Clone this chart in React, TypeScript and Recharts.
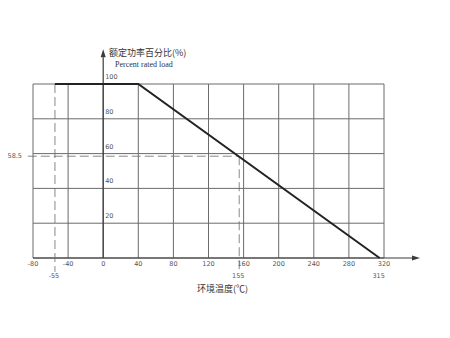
import { CartesianGrid, Line, LineChart, ReferenceDot, ReferenceLine, XAxis, YAxis } from "recharts"

// derating curve: ambient temperature (°C) vs percent rated load
const curveTemp = [-55, 40, 315]
const curveLoad = [100, 100, 0]

const xTicks = [-80, -40, 0, 40, 80, 120, 160, 200, 240, 280, 320]
const yTicks = [0, 20, 40, 60, 80, 100]
const yTickLabels = [20, 40, 60, 80, 100]
const markTemps = [-55, 155, 315]
const kneeLoad = 58.5

const data = curveTemp.map((t, i) => ({ t, p: curveLoad[i] }))

const ink = "#3a3a3a"
const gridInk = "#6b6b6b"
const labelInk = "#555"

const Arrow = (props: any) => {
  const { x1, y1, x2, y2 } = props
  const dx = x2 - x1
  const dy = y2 - y1
  const len = Math.sqrt(dx * dx + dy * dy) || 1
  const ux = dx / len
  const uy = dy / len
  const hl = 8
  const hw = 2.5
  const bx = x2 - ux * hl
  const by = y2 - uy * hl
  return (
    <g>
      <line x1={x1} y1={y1} x2={bx} y2={by} stroke={ink} strokeWidth={1.2} />
      <polygon
        points={`${x2},${y2} ${bx - uy * hw},${by + ux * hw} ${bx + uy * hw},${by - ux * hw}`}
        fill={ink}
      />
    </g>
  )
}

const rightAbove = (value: number) => (props: any) => {
  const { x, y } = props.viewBox
  return (
    <text x={x + 3} y={y - 4} fontSize={6.5} fill={labelInk} fontFamily="DejaVu Sans">
      {value}
    </text>
  )
}

const below = (value: number) => (props: any) => {
  const { x, y } = props.viewBox
  return (
    <text x={x} y={y + 21} fontSize={6.5} fill={labelInk} fontFamily="DejaVu Sans" textAnchor="middle">
      {value}
    </text>
  )
}

const leftOf = (value: number) => (props: any) => {
  const { x, y } = props.viewBox
  return (
    <text x={x - 10} y={y + 3} fontSize={6.5} fill={labelInk} fontFamily="DejaVu Sans" textAnchor="end">
      {value}
    </text>
  )
}

export default function App() {
  return (
    <div style={{ position: "absolute", left: 0, top: 0, width: 450, height: 338, background: "#fff" }}>
      <LineChart width={450} height={338} data={data} margin={{ top: 84, right: 66, bottom: 68, left: 33 }}>
        <CartesianGrid stroke={gridInk} strokeWidth={1} />
        <XAxis
          type="number"
          dataKey="t"
          domain={[-80, 320]}
          ticks={xTicks}
          interval={0}
          axisLine={false}
          tickLine={false}
          tickSize={0}
          tickMargin={3}
          height={12}
          tick={{ fontSize: 6.5, fill: labelInk, fontFamily: "DejaVu Sans" }}
        />
        <YAxis type="number" domain={[0, 100]} ticks={yTicks} hide />
        {/* axes with arrows */}
        <ReferenceLine
          segment={[{ x: 0, y: 0 }, { x: 0, y: 120 }]}
          ifOverflow="visible"
          shape={Arrow}
        />
        <ReferenceLine
          segment={[{ x: -80, y: 0 }, { x: 361, y: 0 }]}
          ifOverflow="visible"
          shape={Arrow}
        />
        {/* dashed guides */}
        <ReferenceLine
          segment={[{ x: -86, y: kneeLoad }, { x: 155, y: kneeLoad }]}
          ifOverflow="visible"
          stroke={gridInk}
          strokeOpacity={0.8}
          strokeDasharray="9 4"
        />
        <ReferenceLine
          segment={[{ x: -55, y: 100 }, { x: -55, y: -8 }]}
          ifOverflow="visible"
          stroke={gridInk}
          strokeOpacity={0.8}
          strokeDasharray="9 4"
        />
        <ReferenceLine
          segment={[{ x: 155, y: kneeLoad }, { x: 155, y: -8 }]}
          ifOverflow="visible"
          stroke={gridInk}
          strokeOpacity={0.8}
          strokeDasharray="9 4"
        />
        {yTickLabels.map((v) => (
          <ReferenceDot key={"y" + v} x={0} y={v} r={1} fill="none" stroke="none" label={rightAbove(v)} />
        ))}
        {markTemps.map((v) => (
          <ReferenceDot key={"m" + v} x={v} y={0} r={1} fill="none" stroke="none" label={below(v)} />
        ))}
        <ReferenceDot x={-80} y={kneeLoad} r={1} fill="none" stroke="none" label={leftOf(kneeLoad)} />
        <Line
          dataKey="p"
          type="linear"
          stroke="#222"
          strokeWidth={2}
          dot={false}
          isAnimationActive={false}
        />
      </LineChart>
      <div
        style={{
          position: "absolute",
          left: 109,
          top: 47,
          fontSize: 9,
          color: "#333",
          fontFamily: "'Noto Sans CJK SC'",
          whiteSpace: "nowrap",
          lineHeight: "12px",
        }}
      >
        额定功率百分比(%)
      </div>
      <div
        style={{
          position: "absolute",
          left: 115,
          top: 60,
          fontSize: 8,
          color: "#333",
          fontFamily: "'Liberation Serif'",
          whiteSpace: "nowrap",
          lineHeight: "10px",
        }}
      >
        Percent rated load
      </div>
      <div
        style={{
          position: "absolute",
          left: 197,
          top: 282,
          fontSize: 9,
          color: "#333",
          fontFamily: "'Noto Sans CJK SC'",
          whiteSpace: "nowrap",
          lineHeight: "13px",
        }}
      >
        环境温度(℃)
      </div>
    </div>
  )
}
